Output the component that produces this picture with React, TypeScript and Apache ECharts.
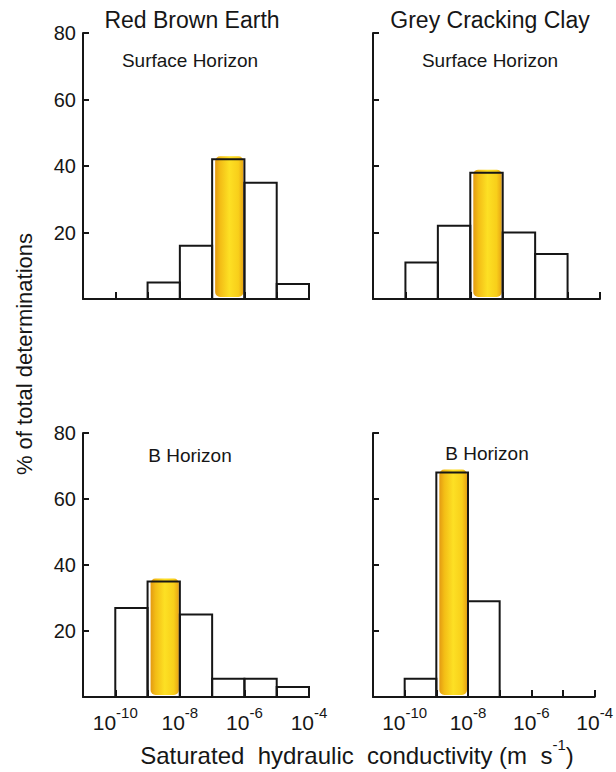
import React, { useEffect, useRef } from "react";
import * as echarts from "echarts";

// Bin edges in log10 of saturated hydraulic conductivity (m s^-1)
const binEdges = [-11, -10, -9, -8, -7, -6, -5, -4];

// % of total determinations in each one-decade bin
const redBrownSurface = [0, 0, 5, 16, 42, 35, 4.5];
const greyClaySurface = [0, 11, 22, 38, 20, 13.5, 0];
const redBrownB = [0, 27, 35, 25, 5.5, 5.5, 3];
const greyClayB = [0, 5.5, 68, 29, 0, 0, 0];

// Bin marked in yellow for each panel
const highlightBins = [4, 3, 2, 2];

const soilTitles = ["Red Brown Earth", "Grey Cracking Clay"];
const horizonTitles = ["Surface Horizon", "Surface Horizon", "B Horizon", "B Horizon"];
const yTicks = [0, 20, 40, 60, 80];
const xLabelPowers = [-10, -8, -6, -4];

const FONT = "'Liberation Sans', Arial, Helvetica, sans-serif";
const INK = "#161616";

const panels = [redBrownSurface, greyClaySurface, redBrownB, greyClayB];

const gridBoxes = [
  { left: 83, top: 33, width: 226, height: 266 },
  { left: 373, top: 33, width: 227, height: 266 },
  { left: 83, top: 433, width: 226, height: 264 },
  { left: 373, top: 433, width: 227, height: 264 },
];

const highlightFill = {
  type: "linear",
  x: 0,
  y: 0,
  x2: 1,
  y2: 0,
  colorStops: [
    { offset: 0, color: "#e39a12" },
    { offset: 0.18, color: "#f3bd16" },
    { offset: 0.5, color: "#fde024" },
    { offset: 0.82, color: "#f8cf1a" },
    { offset: 1, color: "#e8a414" },
  ],
};

function buildOption() {
  const grid = gridBoxes.map((g) => ({ ...g, containLabel: false }));

  const xAxis = gridBoxes.map((_, i) => ({
    type: "value",
    gridIndex: i,
    min: binEdges[0],
    max: binEdges[binEdges.length - 1],
    interval: 1,
    axisLine: { lineStyle: { color: INK, width: 2 } },
    axisTick: { inside: true, length: 7, lineStyle: { color: INK, width: 2 } },
    splitLine: { show: false },
    axisLabel: {
      show: i >= 2,
      margin: 8,
      formatter: (v: number) =>
        xLabelPowers.indexOf(v) >= 0 ? `{b|10}{s|${v}}` : "",
      rich: {
        b: {
          fontFamily: FONT,
          fontSize: 21,
          color: INK,
          lineHeight: 28,
          verticalAlign: "bottom",
        },
        s: {
          fontFamily: FONT,
          fontSize: 15,
          color: INK,
          lineHeight: 15,
          verticalAlign: "top",
        },
      },
    },
  }));

  const yAxis = gridBoxes.map((_, i) => ({
    type: "value",
    gridIndex: i,
    min: yTicks[0],
    max: yTicks[yTicks.length - 1],
    interval: 20,
    axisLine: { show: true, lineStyle: { color: INK, width: 2 } },
    axisTick: { show: true, inside: true, length: 6, lineStyle: { color: INK, width: 2 } },
    splitLine: { show: false },
    axisLabel: {
      show: i % 2 === 0,
      margin: 7,
      fontFamily: FONT,
      fontSize: 20,
      color: INK,
      formatter: (v: number) => (v === 0 ? "" : String(v)),
    },
  }));

  const series = panels.map((values, i) => ({
    type: "custom",
    xAxisIndex: i,
    yAxisIndex: i,
    clip: false,
    data: values
      .map((v, k) => [binEdges[k], binEdges[k + 1], v, k === highlightBins[i] ? 1 : 0])
      .filter((d) => d[2] > 0),
    renderItem: (params: any, api: any) => {
      const start = api.value(0);
      const end = api.value(1);
      const val = api.value(2);
      const marked = api.value(3);
      const topLeft = api.coord([start, val]);
      const bottomRight = api.coord([end, 0]);
      const rect = {
        x: topLeft[0],
        y: topLeft[1],
        width: bottomRight[0] - topLeft[0],
        height: bottomRight[1] - topLeft[1],
      };
      const children: any[] = [];
      if (marked) {
        children.push({
          type: "rect",
          shape: {
            x: rect.x + 3,
            y: rect.y - 3,
            width: rect.width - 4,
            height: rect.height + 1,
            r: 5,
          },
          style: { fill: highlightFill },
        });
      }
      children.push({
        type: "rect",
        shape: rect,
        style: { fill: "none", stroke: INK, lineWidth: 2 },
      });
      return { type: "group", children };
    },
  }));

  const textEl = (text: string, x: number, y: number, size: number, extra: any = {}) => ({
    type: "text",
    x,
    y,
    ...extra,
    style: {
      text,
      fontFamily: FONT,
      fontSize: size,
      fill: INK,
      align: "center",
      verticalAlign: "middle",
      textAlign: "center",
      textVerticalAlign: "middle",
    },
  });

  const graphic: any[] = [
    textEl(soilTitles[0], 192, 20, 23),
    textEl(soilTitles[1], 490, 20, 23),
    textEl(horizonTitles[0], 190, 60, 19),
    textEl(horizonTitles[1], 490, 60, 19),
    textEl(horizonTitles[2], 190, 455, 19),
    textEl(horizonTitles[3], 487, 453, 19),
    textEl("% of total determinations", 24, 354, 22, { rotation: Math.PI / 2 }),
    {
      type: "text",
      x: 357,
      y: 752,
      style: {
        text: "{t|Saturated  hydraulic  conductivity (m  s}{s|-1}{t|)}",
        align: "center",
        verticalAlign: "middle",
        textAlign: "center",
        textVerticalAlign: "middle",
        rich: {
          t: {
            fontFamily: FONT,
            fontSize: 24,
            fill: INK,
            color: INK,
            lineHeight: 30,
            verticalAlign: "bottom",
          },
          s: {
            fontFamily: FONT,
            fontSize: 15,
            fill: INK,
            color: INK,
            lineHeight: 16,
            verticalAlign: "top",
          },
        },
      },
    },
  ];

  return {
    animation: false,
    backgroundColor: "#ffffff",
    grid,
    xAxis,
    yAxis,
    series,
    graphic,
  };
}

export default function App() {
  const ref = useRef<HTMLDivElement>(null);

  useEffect(() => {
    if (!ref.current) return;
    const chart = echarts.init(ref.current, undefined, { renderer: "svg" });
    chart.setOption(buildOption() as any);
    return () => chart.dispose();
  }, []);

  return (
    <div
      ref={ref}
      style={{ position: "absolute", left: 0, top: 0, width: 616, height: 772 }}
    />
  );
}
